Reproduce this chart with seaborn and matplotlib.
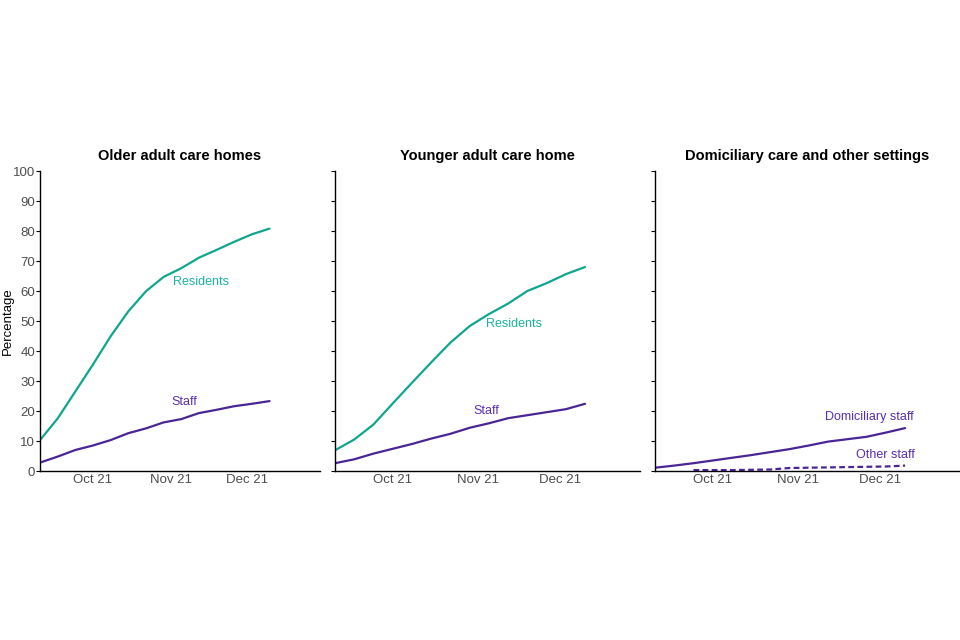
import numpy as np
import pandas as pd
import matplotlib
matplotlib.use("Agg")
import matplotlib.pyplot as plt
import seaborn as sns

# ---- data ----
dates = pd.date_range("2021-09-10", periods=14, freq="7D")

older_residents = [10.3, 17.5, 26.5, 35.5, 44.9, 53.2, 59.9, 64.7, 67.6, 71.1, 73.7, 76.4, 78.9, 80.8]
older_staff = [2.8, 4.8, 7.0, 8.5, 10.3, 12.6, 14.2, 16.2, 17.3, 19.3, 20.4, 21.6, 22.4, 23.3]

younger_residents = [6.9, 10.5, 15.5, 22.5, 29.4, 36.2, 42.8, 48.3, 52.3, 55.8, 60.0, 62.6, 65.6, 68.0]
younger_staff = [2.6, 3.9, 5.8, 7.4, 9.0, 10.8, 12.4, 14.4, 15.9, 17.6, 18.6, 19.6, 20.6, 22.4]

dom_staff = [1.1, 1.8, 2.6, 3.5, 4.4, 5.3, 6.3, 7.3, 8.5, 9.8, 10.6, 11.4, 12.8, 14.3]
other_staff = [np.nan, np.nan, 0.3, 0.3, 0.3, 0.4, 0.5, 1.0, 1.1, 1.2, 1.3, 1.4, 1.5, 1.8]

panel_titles = ["Older adult care homes", "Younger adult care home",
                "Domiciliary care and other settings"]
month_ticks = pd.to_datetime(["2021-10-01", "2021-11-01", "2021-12-01"])
month_labels = ["Oct 21", "Nov 21", "Dec 21"]
y_ticks = list(range(0, 101, 10))

TEAL = "#0FA68D"
TEAL_TXT = "#1BB3A0"
PURPLE = "#4A2595"
PURPLE_TXT = "#5B2DB3"
GREY = "#4D4D4D"

sns.set_style("white")
plt.rcParams["font.family"] = ["Liberation Sans", "DejaVu Sans"]
plt.rcParams["text.color"] = "black"

fig = plt.figure(figsize=(9.6, 6.4), dpi=100)
W, H = 960, 640
def add_ax(left, right, top=171, bottom=471):
    return fig.add_axes([left / W, 1 - bottom / H, (right - left) / W, (bottom - top) / H])

ax1 = add_ax(40, 320)
ax2 = add_ax(335, 640)
ax3 = add_ax(655, 960)
axes = [ax1, ax2, ax3]

def df_of(vals):
    return pd.DataFrame({"date": dates, "value": vals})

sns.lineplot(data=df_of(older_residents), x="date", y="value", ax=ax1, color=TEAL, lw=1.6)
sns.lineplot(data=df_of(older_staff), x="date", y="value", ax=ax1, color=PURPLE, lw=1.6)
sns.lineplot(data=df_of(younger_residents), x="date", y="value", ax=ax2, color=TEAL, lw=1.6)
sns.lineplot(data=df_of(younger_staff), x="date", y="value", ax=ax2, color=PURPLE, lw=1.6)
sns.lineplot(data=df_of(dom_staff), x="date", y="value", ax=ax3, color=PURPLE, lw=1.6)
sns.lineplot(data=df_of(other_staff).dropna(), x="date", y="value", ax=ax3, color=PURPLE,
             lw=1.6, dashes=False)
ax3.lines[-1].set_dashes((2.6, 1.5))

for i, ax in enumerate(axes):
    ax.set_xlim(pd.Timestamp("2021-09-10"), pd.Timestamp("2021-12-30"))
    ax.set_ylim(0, 100)
    ax.set_yticks(y_ticks)
    ax.set_xticks(month_ticks)
    ax.set_xticklabels(month_labels)
    ax.tick_params(axis="x", length=0, pad=2, labelsize=9.5, labelcolor=GREY)
    ax.tick_params(axis="y", length=3, width=0.8, color="black", direction="out",
                   left=True, pad=0.5, labelsize=9.5, labelcolor=GREY)
    if i > 0:
        ax.set_yticklabels([])
    ax.set_xlabel("")
    ax.set_ylabel("")
    for s in ["top", "right"]:
        ax.spines[s].set_visible(False)
    for s in ["left", "bottom"]:
        ax.spines[s].set_color("black")
        ax.spines[s].set_linewidth(1.0)
    ax.set_title(panel_titles[i], fontsize=10.5, fontweight="bold", pad=8, color="black")
    ax.grid(False)

ax1.set_ylabel("Percentage", fontsize=9.5, color="black")
ax1.yaxis.set_label_coords(-0.094, 0.5)

def label(ax, date, y, text, color):
    ax.text(pd.Timestamp(date), y, text, color=color, fontsize=9, ha="center", va="center")

label(ax1, "2021-11-13", 63, "Residents", TEAL_TXT)
label(ax1, "2021-11-06", 23, "Staff", PURPLE_TXT)
label(ax2, "2021-11-14", 49, "Residents", TEAL_TXT)
label(ax2, "2021-11-04", 20, "Staff", PURPLE_TXT)
label(ax3, "2021-11-27", 18, "Domiciliary staff", PURPLE_TXT)
label(ax3, "2021-12-03", 5.3, "Other staff", PURPLE_TXT)

fig.savefig("out.png", dpi=100)
